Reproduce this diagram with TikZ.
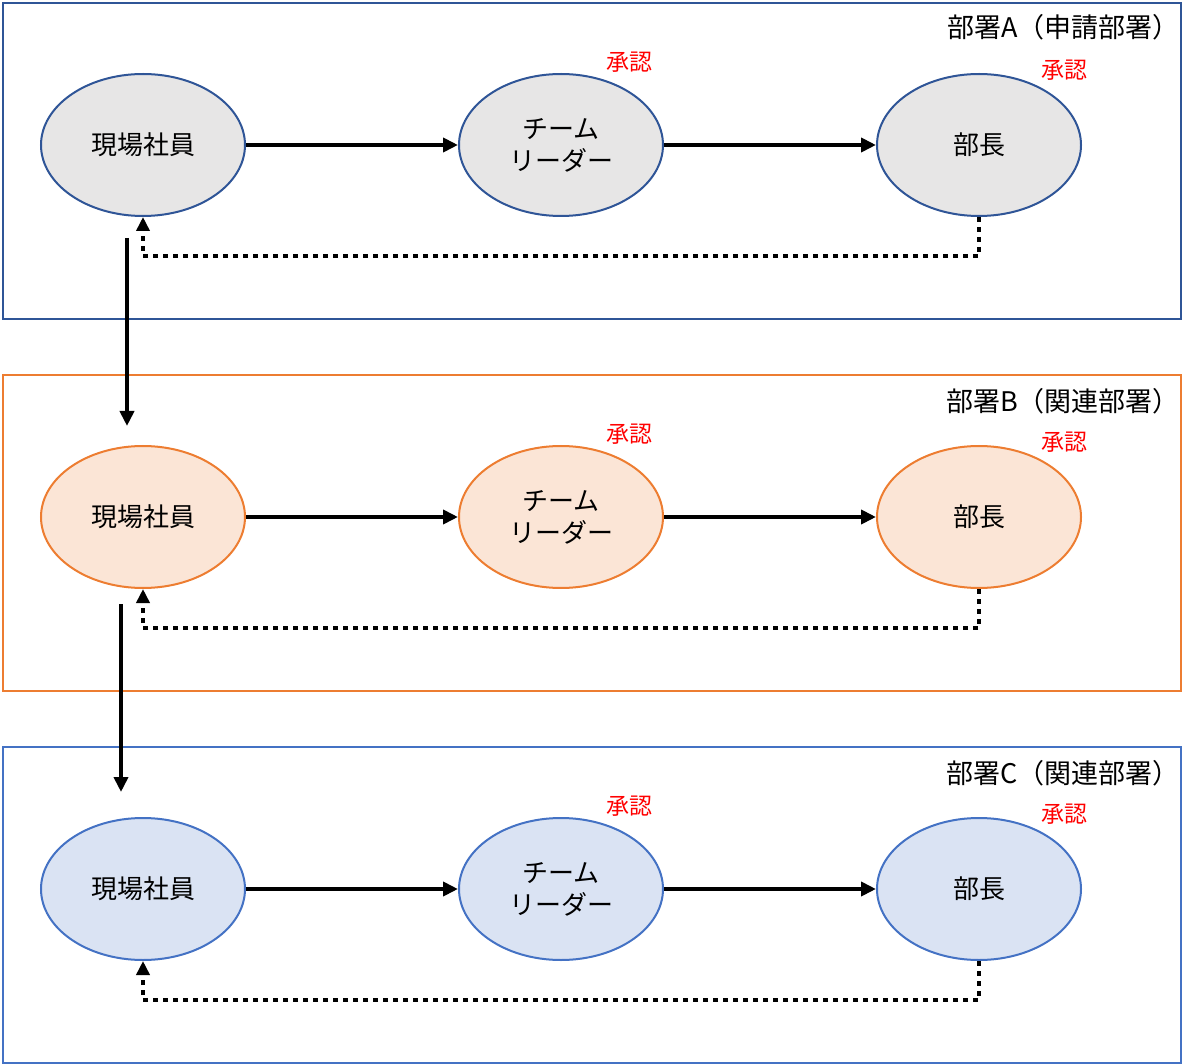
\documentclass[tikz,border=0pt]{standalone}
\usepackage{fontspec}
\setmainfont{Noto Sans CJK JP}
\usetikzlibrary{shapes.geometric,arrows.meta}
\definecolor{frameA}{HTML}{2F5597}
\definecolor{fillA}{HTML}{E7E6E6}
\definecolor{frameB}{HTML}{ED7D31}
\definecolor{fillB}{HTML}{FBE5D6}
\definecolor{frameC}{HTML}{4472C4}
\definecolor{fillC}{HTML}{DAE3F3}
\definecolor{apprRed}{HTML}{FF0000}
\tikzset{
  frm/.style={line width=2pt},
  oval/.style={ellipse, minimum width=204pt, minimum height=142pt, inner sep=0pt, line width=2pt, align=center,
    font=\fontsize{26}{32}\selectfont},
  flow/.style={line width=4pt, -{Triangle[length=15pt,width=14pt]}},
  fb/.style={line width=4.5pt, dash pattern=on 5pt off 5pt, -{Triangle[length=14pt,width=13pt]}},
  ttl/.style={anchor=east, font=\fontsize{27}{30}\selectfont, inner sep=0pt},
  appr/.style={text=apprRed, font=\fontsize{23}{26}\selectfont, inner sep=0pt},
}
\begin{document}
\begin{tikzpicture}[x=1pt,y=-1pt]
\useasboundingbox (0,0) rectangle (1200,1064);
% frames
\node[draw=frameA, frm, minimum width=1178pt, minimum height=316pt, anchor=north west, inner sep=0pt] (fA) at (2,2) {};
\node[draw=frameB, frm, minimum width=1178pt, minimum height=316pt, anchor=north west, inner sep=0pt] (fB) at (2,374) {};
\node[draw=frameC, frm, minimum width=1178pt, minimum height=316pt, anchor=north west, inner sep=0pt] (fC) at (2,746) {};
\node[ttl] (tA) at (1180,27) {部署A（申請部署）};
\node[ttl] (tB) at (1180,401) {部署B（関連部署）};
\node[ttl] (tC) at (1180,773) {部署C（関連部署）};
% row A
\node[oval, draw=frameA, fill=fillA] (eA) at (143,145) {現場社員};
\node[oval, draw=frameA, fill=fillA] (lA) at (561,145) {チーム\\リーダー};
\node[oval, draw=frameA, fill=fillA] (mA) at (979,145) {部長};
\node[appr] (alA) at (629,62) {承認};
\node[appr] (amA) at (1064,70) {承認};
% row B
\node[oval, draw=frameB, fill=fillB] (eB) at (143,517) {現場社員};
\node[oval, draw=frameB, fill=fillB] (lB) at (561,517) {チーム\\リーダー};
\node[oval, draw=frameB, fill=fillB] (mB) at (979,517) {部長};
\node[appr] (alB) at (629,434) {承認};
\node[appr] (amB) at (1064,442) {承認};
% row C
\node[oval, draw=frameC, fill=fillC] (eC) at (143,889) {現場社員};
\node[oval, draw=frameC, fill=fillC] (lC) at (561,889) {チーム\\リーダー};
\node[oval, draw=frameC, fill=fillC] (mC) at (979,889) {部長};
\node[appr] (alC) at (629,806) {承認};
\node[appr] (amC) at (1064,814) {承認};
% flows
\foreach \r in {A,B,C}{
  \draw[flow] (e\r.east) -- (l\r.west);
  \draw[flow] (l\r.east) -- (m\r.west);
  \draw[fb] (m\r.south) -- ++(0,39) -| (e\r.south);
}
% between departments
\coordinate (dA1) at (127,238);
\coordinate (dA2) at (127,426);
\coordinate (dB1) at (121,604);
\coordinate (dB2) at (121,792);
\draw[flow] (dA1) -- (dA2);
\draw[flow] (dB1) -- (dB2);
\end{tikzpicture}
\end{document}
